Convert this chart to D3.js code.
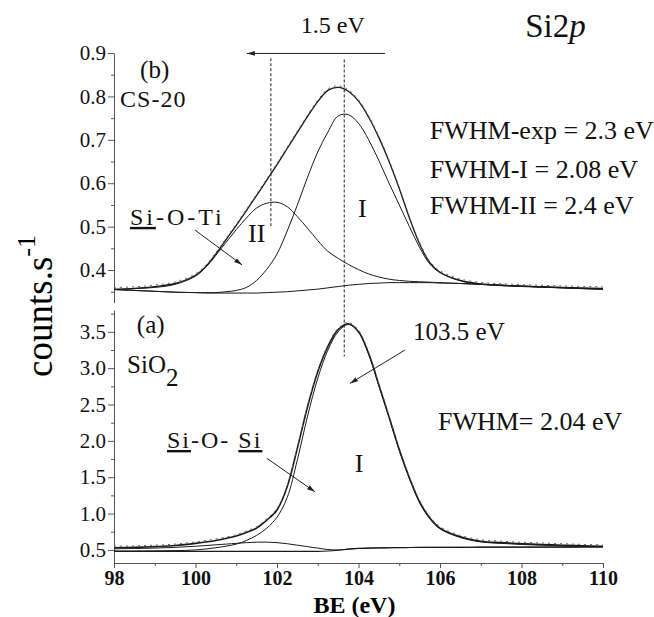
<!DOCTYPE html>
<html>
<head>
<meta charset="utf-8">
<script src="https://cdn.jsdelivr.net/npm/d3@7"></script>
<style>
  body { margin: 0; background: #fff; }
  svg { display: block; }
</style>
</head>
<body>
<script>
// DATA
// (b) CS-20, binding energy grid and fitted curves
var beTop = [98, 98.5, 99, 99.5, 100, 100.25, 100.5, 100.75, 101, 101.25, 101.5, 101.75, 102, 102.25,
    102.5, 102.75, 103, 103.25, 103.5, 103.75, 104, 104.25, 104.5, 104.75, 105, 105.25, 105.5, 105.75,
    106, 106.5, 107, 107.5, 108, 109, 110];
var envTop = [0.356, 0.358, 0.362, 0.369, 0.388, 0.408, 0.437, 0.47, 0.503, 0.537, 0.572, 0.607, 0.643, 0.68,
    0.717, 0.754, 0.788, 0.814, 0.821, 0.812, 0.789, 0.752, 0.705, 0.65, 0.588, 0.52, 0.46, 0.417,
    0.395, 0.376, 0.368, 0.365, 0.363, 0.36, 0.358];
var compITop = [0.355, 0.353, 0.351, 0.349, 0.348, 0.348, 0.348, 0.35, 0.353, 0.36, 0.376, 0.402, 0.437, 0.49,
    0.55, 0.614, 0.672, 0.718, 0.755, 0.758, 0.738, 0.70, 0.652, 0.60, 0.55, 0.50, 0.452, 0.414,
    0.394, 0.375, 0.367, 0.364, 0.362, 0.359, 0.357];
var compIITop = [0.355, 0.357, 0.36, 0.367, 0.386, 0.406, 0.434, 0.464, 0.493, 0.52, 0.543, 0.554, 0.556, 0.546,
    0.523, 0.496, 0.468, 0.443, 0.427, 0.413, 0.401, 0.391, 0.384, 0.379, 0.376, 0.374, 0.373, 0.372,
    0.371, 0.369, 0.367, 0.365, 0.363, 0.359, 0.356];
var bgTop = [0.355, 0.353, 0.351, 0.349, 0.348, 0.347, 0.347, 0.347, 0.347, 0.347, 0.347, 0.348, 0.349, 0.35,
    0.352, 0.354, 0.356, 0.359, 0.362, 0.365, 0.367, 0.369, 0.37, 0.371, 0.371, 0.371, 0.371, 0.371,
    0.37, 0.369, 0.367, 0.365, 0.363, 0.359, 0.355];

// (a) SiO2
var beBot = [98, 98.5, 99, 99.5, 100, 100.5, 101, 101.25, 101.5, 101.75, 102, 102.25, 102.5, 102.75,
    103, 103.25, 103.5, 103.75, 104, 104.25, 104.5, 104.75, 105, 105.25, 105.5, 105.75, 106, 106.5,
    107, 107.5, 108, 108.5, 109, 109.5, 110];
var envBot = [0.53, 0.535, 0.545, 0.56, 0.59, 0.63, 0.69, 0.74, 0.80, 0.91, 1.05, 1.37, 1.90, 2.47,
    2.95, 3.30, 3.53, 3.61, 3.50, 3.20, 2.77, 2.33, 1.88, 1.49, 1.16, 0.94, 0.80, 0.68,
    0.62, 0.60, 0.585, 0.575, 0.565, 0.555, 0.55];
var compIBot = [0.485, 0.485, 0.487, 0.49, 0.50, 0.53, 0.58, 0.63, 0.70, 0.80, 0.95, 1.22, 1.74, 2.34,
    2.86, 3.25, 3.50, 3.60, 3.50, 3.19, 2.76, 2.32, 1.87, 1.48, 1.15, 0.93, 0.79, 0.67,
    0.61, 0.59, 0.575, 0.565, 0.555, 0.548, 0.545];
var bumpBot = [0.515, 0.52, 0.525, 0.535, 0.55, 0.57, 0.59, 0.60, 0.607, 0.607, 0.60, 0.585, 0.565, 0.545,
    0.525, 0.505, 0.50, 0.51, 0.52, 0.525, 0.528, 0.53, 0.532, 0.533, 0.534, 0.535, 0.535, 0.536,
    0.537, 0.538, 0.538, 0.539, 0.539, 0.54, 0.54];
var bgBot = [0.48, 0.48, 0.48, 0.48, 0.48, 0.48, 0.48, 0.48, 0.48, 0.48, 0.48, 0.48, 0.48, 0.48,
    0.48, 0.485, 0.495, 0.51, 0.52, 0.525, 0.528, 0.53, 0.532, 0.533, 0.534, 0.535, 0.535, 0.536,
    0.537, 0.538, 0.538, 0.539, 0.539, 0.54, 0.54];

// ticks
var tickTop = [0.4, 0.5, 0.6, 0.7, 0.8, 0.9];
var minorTop = [0.35, 0.45, 0.55, 0.65, 0.75, 0.85];
var tickBot = [0.5, 1.0, 1.5, 2.0, 2.5, 3.0, 3.5];
var minorBot = [0.75, 1.25, 1.75, 2.25, 2.75, 3.25, 3.75];
var tickX = [98, 100, 102, 104, 106, 108, 110];
var minorX = [99, 101, 103, 105, 107, 109];

const FONT = '"Liberation Serif", "Times New Roman", Times, serif';

// D3
var svg = d3.select("body")
    .append("svg")
    .attr("width", 654)
    .attr("height", 617)
    .attr("font-family", FONT);

const xScale = d3.scaleLinear().domain([98, 110]).range([114, 603]);
const yTop = d3.scaleLinear().domain([0.325, 0.9]).range([302.6, 53]);
const yBot = d3.scaleLinear().domain([0.32, 3.8]).range([563, 310]);

// arrow heads
var defs = svg.append("defs");
defs.append("marker")
    .attr("id", "ah")
    .attr("viewBox", "0 0 10 10")
    .attr("refX", 10).attr("refY", 5)
    .attr("markerWidth", 8).attr("markerHeight", 8)
    .attr("orient", "auto")
    .append("path")
    .attr("d", "M0,2 L10,5 L0,8 z")
    .attr("fill", "#222");

// axes
function styleAxis(g, size) {
    g.attr("color", "#555").attr("font-family", FONT).attr("font-size", size);
    g.selectAll("text").attr("fill", "#111");
}

var axTop = svg.append("g").attr("transform", "translate(114,0)")
    .call(d3.axisLeft(yTop).tickValues(tickTop).tickSize(6).tickSizeOuter(0).tickPadding(2)
        .tickFormat(d3.format(".1f")));
styleAxis(axTop, 21);
svg.append("g").attr("transform", "translate(114,0)")
    .call(d3.axisLeft(yTop).tickValues(minorTop).tickSize(3).tickFormat(""))
    .attr("color", "#555")
    .select(".domain").remove();

var axBot = svg.append("g").attr("transform", "translate(114,0)")
    .call(d3.axisLeft(yBot).tickValues(tickBot).tickSize(6).tickSizeOuter(0).tickPadding(2)
        .tickFormat(d3.format(".1f")));
styleAxis(axBot, 21);
svg.append("g").attr("transform", "translate(114,0)")
    .call(d3.axisLeft(yBot).tickValues(minorBot).tickSize(3).tickFormat(""))
    .attr("color", "#555")
    .select(".domain").remove();

var axX = svg.append("g").attr("transform", "translate(0,563)")
    .call(d3.axisBottom(xScale).tickValues(tickX).tickSize(5).tickSizeOuter(0).tickPadding(3));
styleAxis(axX, 20);
axX.selectAll("text").attr("font-weight", "bold");
svg.append("g").attr("transform", "translate(0,563)")
    .call(d3.axisBottom(xScale).tickValues(minorX).tickSize(3).tickFormat(""))
    .attr("color", "#555")
    .select(".domain").remove();

// axis titles
svg.append("text")
    .attr("x", xScale(103.9)).attr("y", 613)
    .attr("text-anchor", "middle")
    .attr("font-family", FONT)
    .attr("font-size", 24).attr("font-weight", "bold")
    .text("BE (eV)");

var yl = svg.append("text")
    .attr("transform", "translate(52,306) rotate(-90)")
    .attr("text-anchor", "middle")
    .attr("font-family", FONT)
    .attr("font-size", 37);
yl.append("tspan").text("counts.s");
yl.append("tspan").attr("dy", -17).attr("font-size", 26).text("-1");

// curves
function drawCurves(be, series, y, widths) {
    series.forEach(function(s, k) {
        var line = d3.line()
            .x(function(d, i) { return xScale(be[i]); })
            .y(function(d) { return y(d); })
            .curve(d3.curveCatmullRom);
        svg.append("path")
            .attr("d", line(s))
            .attr("fill", "none")
            .attr("stroke", "#1a1a1a")
            .attr("stroke-width", widths[k]);
    });
    // measured points, drawn as a dotted trace along the envelope
    var dots = d3.line()
        .x(function(d, i) { return xScale(be[i]); })
        .y(function(d) { return y(d) - 1.5; })
        .curve(d3.curveCatmullRom);
    svg.append("path")
        .attr("d", dots(series[0]))
        .attr("fill", "none")
        .attr("stroke", "#666")
        .attr("stroke-width", 1)
        .attr("stroke-dasharray", "2,4");
}

drawCurves(beTop, [envTop, compITop, compIITop, bgTop], yTop, [1.3, 1, 1, 1]);
drawCurves(beBot, [envBot, compIBot, bumpBot, bgBot], yBot, [1.6, 1, 1, 1.2]);

// dashed guide lines
svg.append("line")
    .attr("x1", xScale(101.85)).attr("x2", xScale(101.85))
    .attr("y1", yTop(0.888)).attr("y2", yTop(0.50))
    .attr("stroke", "#222").attr("stroke-dasharray", "3,2");
svg.append("line")
    .attr("x1", xScale(103.65)).attr("x2", xScale(103.65))
    .attr("y1", yTop(0.885)).attr("y2", yBot(3.16))
    .attr("stroke", "#222").attr("stroke-dasharray", "3,2");

// arrows
function arrow(x1, y1, x2, y2) {
    svg.append("line")
        .attr("x1", x1).attr("y1", y1).attr("x2", x2).attr("y2", y2)
        .attr("stroke", "#222").attr("stroke-width", 1)
        .attr("marker-end", "url(#ah)");
}
arrow(xScale(104.65), yTop(0.899), xScale(101.26), yTop(0.899));
arrow(xScale(99.99), yTop(0.492), xScale(101.14), yTop(0.412));
arrow(xScale(101.75), yBot(1.76), xScale(102.93), yBot(1.30));
arrow(xScale(105.14), yBot(3.25), xScale(103.79), yBot(2.79));

// labels
function label(x, y, txt, size, anchor) {
    return svg.append("text")
        .attr("x", x).attr("y", y)
        .attr("text-anchor", anchor || "start")
        .attr("font-family", FONT)
        .attr("fill", "#111")
        .attr("font-size", size)
        .text(txt);
}

label(xScale(103.37), yTop(0.946), "1.5 eV", 24, "middle");
var sp = label(xScale(108.09), yTop(0.937), "Si2", 33);
sp.append("tspan").attr("font-style", "italic").text("p");

label(xScale(98.64), yTop(0.842), "(b)", 25);
label(xScale(98.15), yTop(0.776), "CS-20", 24).attr("letter-spacing", 1);
label(xScale(105.75), yTop(0.702), "FWHM-exp = 2.3 eV", 26);
label(xScale(105.75), yTop(0.612), "FWHM-I = 2.08 eV", 26);
label(xScale(105.75), yTop(0.529), "FWHM-II = 2.4 eV", 26);
label(xScale(101.29), yTop(0.465), "II", 26);
label(xScale(103.99), yTop(0.522), "I", 26);

var sot = label(xScale(98.39), yTop(0.504), "", 24).attr("letter-spacing", 3);
sot.append("tspan").attr("text-decoration", "underline").text("Si");
sot.append("tspan").text("-O-Ti");

label(xScale(98.56), yBot(3.484), "(a)", 25);
var sio = label(xScale(98.32), yBot(2.934), "SiO", 25);
sio.append("tspan").attr("dy", 13).text("2");

var sos = label(xScale(99.3), yBot(1.902), "", 24).attr("letter-spacing", 2);
sos.append("tspan").attr("text-decoration", "underline").text("Si");
sos.append("tspan").text("-O- ");
sos.append("tspan").attr("text-decoration", "underline").text("Si");

label(xScale(105.34), yBot(3.387), "103.5 eV", 25);
label(xScale(105.95), yBot(2.149), "FWHM= 2.04 eV", 26);
label(xScale(103.91), yBot(1.572), "I", 26);
</script>
</body>
</html>
